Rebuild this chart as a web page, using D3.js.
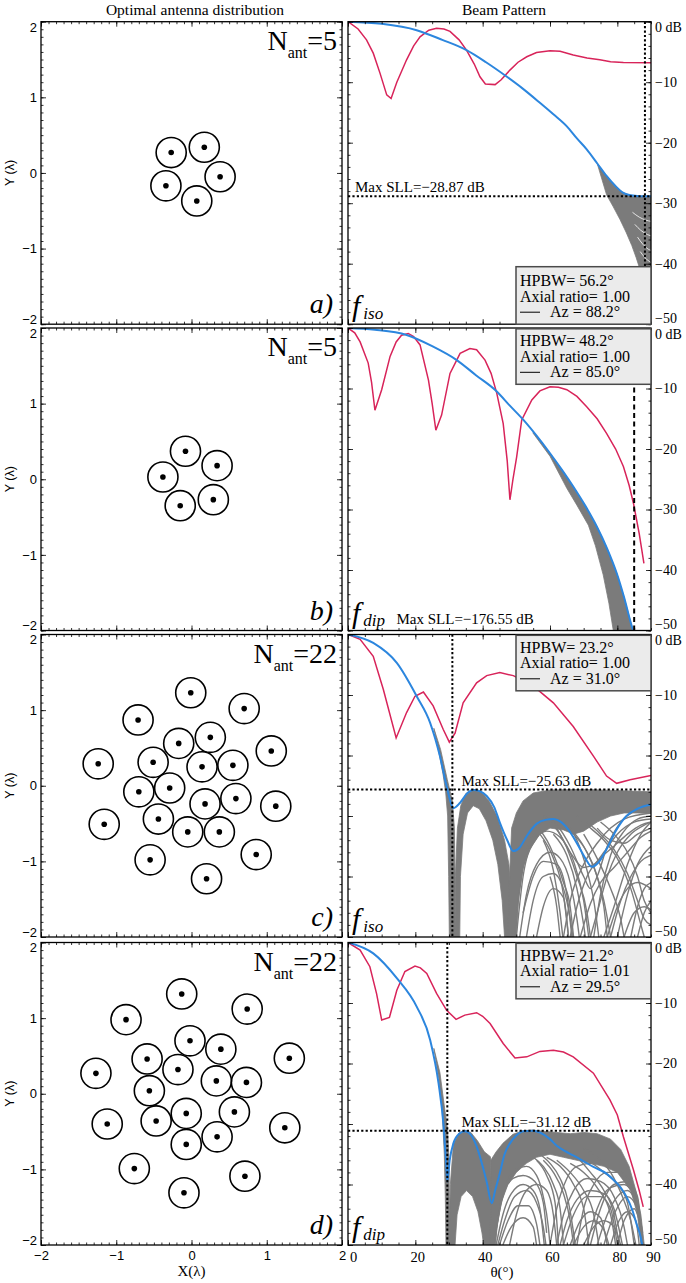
<!DOCTYPE html>
<html><head><meta charset="utf-8">
<script src="https://cdn.jsdelivr.net/npm/d3@7"></script>
<style>
body{margin:0;background:#fff;}
svg{display:block;}
</style></head><body>
<svg id="chart" width="686" height="1283"></svg>
<script>
// ---------------- DATA ----------------
const panelLetters = ["a)", "b)", "c)", "d)"];
const nAnt = ["5", "5", "22", "22"];
const patternKind = ["iso", "dip", "iso", "dip"];
const hpbw = ["56.2", "48.2", "23.2", "21.2"];
const axialRatio = ["1.00", "1.00", "1.00", "1.01"];
const azimuth = [88.2, 85.0, 31.0, 29.5];
const maxSLL = [-28.87, -176.55, -25.63, -31.12];
const xyTicks = [-2, -1, 0, 1, 2];
const thetaTicks = [0, 20, 40, 60, 80, 90];
const dbTicks = [0, -10, -20, -30, -40, -50];

const antA = [[-0.27,0.27],[0.17,0.34],[0.38,-0.05],[0.07,-0.37],[-0.34,-0.17]];
const antB = [[-0.08,0.37],[0.34,0.18],[0.29,-0.27],[-0.15,-0.35],[-0.38,0.03]];
const antC = [[-0.01,1.23],[0.70,1.02],[-0.71,0.87],[-0.17,0.56],[0.25,0.64],[1.06,0.46],
  [-1.24,0.29],[-0.51,0.31],[0.14,0.25],[0.55,0.27],[-0.70,-0.08],[-0.29,-0.03],[0.18,-0.24],
  [0.59,-0.17],[1.12,-0.27],[-1.16,-0.51],[-0.44,-0.44],[-0.05,-0.61],[0.37,-0.61],[-0.55,-0.98],
  [0.86,-0.91],[0.20,-1.23]];
const antD = [[-0.13,1.32],[0.74,1.12],[-0.87,0.98],[-0.02,0.70],[0.39,0.59],[-0.59,0.46],
  [1.30,0.47],[-0.18,0.32],[-1.27,0.27],[0.33,0.17],[0.73,0.15],[-0.56,0.04],[-0.07,-0.26],
  [0.57,-0.24],[-1.12,-0.40],[-0.47,-0.36],[1.24,-0.45],[0.34,-0.57],[-0.07,-0.67],[-0.76,-0.99],
  [0.71,-1.09],[-0.10,-1.31]];

// Beam patterns [theta (deg), dB]
const blueA = [[0,0],[10,-0.35],[20.4,-1.4],[28,-3],[35.2,-4.7],[41,-6.7],[47.1,-9.06],[52,-11.1],[57,-13.4],[61,-15.3],[65,-17.3],[68,-19.3],[70.9,-21.1],[74,-23.4],[76.8,-25.5],[79.5,-27.2],[81.8,-28.3],[84,-28.7],[86.7,-28.85],[90,-28.87]];
const redA = [[0,0],[3,-1.2],[5.5,-3],[7.5,-5.2],[9.5,-8.5],[11.5,-12.1],[12.8,-12.7],[14.5,-10],[17.4,-6.3],[19.5,-4],[21.4,-2.5],[24,-1.4],[26.3,-1.1],[28.5,-1.2],[30.3,-1.6],[33,-3],[35.2,-4.7],[37.5,-7],[39.2,-9.1],[40.8,-10.3],[43.7,-10.4],[45.5,-9.6],[48.1,-8.0],[50.5,-6.7],[53.1,-5.8],[56,-5.1],[60,-4.8],[63,-4.9],[66.9,-5.5],[71,-6],[74.8,-6.3],[78,-6.6],[81.8,-6.75],[90,-6.8]];
const grayA = [
  {upper: [[74,-23.4],[76.8,-25.5],[79.5,-27.2],[81.8,-28.3],[84,-28.7],[86.7,-28.85],[90,-28.87]],
   lower: [[74,-23.4],[76.8,-28.6],[78.8,-30.6],[80.8,-32.7],[82.6,-34.8],[84.3,-37],[85.6,-39],[86.7,-40.9],[88,-44],[89,-47],[90,-50]]}
];
const strandsA = [];
const gapsA = [
  [[84.5,-31.5],[86.5,-32.3],[88.5,-32.8],[90,-33]],
  [[85.2,-33.5],[87,-34.5],[89,-35.2],[90,-35.4]],
  [[86,-35.6],[87.6,-36.8],[89.2,-37.6],[90,-37.8]],
  [[86.8,-38],[88.2,-39],[90,-39.8]]
];

const blueB = [[0,0],[8,-0.3],[17.4,-1.16],[25,-3],[32.3,-5.3],[38,-7.8],[44.2,-10.5],[48,-12.8],[52.1,-15.2],[56,-17.8],[60,-20.7],[63.5,-23.4],[66.9,-26.2],[70.5,-29.4],[73.9,-32.8],[77,-36.5],[79.8,-40.5],[82,-44.5],[84.3,-49.3],[84.7,-50]];
const redB = [[0,0],[2,-0.8],[3.6,-2.3],[6,-5.8],[7,-9],[8,-13.6],[10,-10.2],[12.5,-4.7],[14.3,-2.3],[15.9,-1.2],[17.9,-0.9],[19.5,-1.4],[21.4,-2.8],[23.9,-8.6],[25,-12.5],[26.1,-16.9],[27.8,-14.4],[30.3,-7.5],[33.3,-4.2],[36.2,-3.4],[38.2,-3.6],[40.7,-5.3],[42.5,-7.5],[44.2,-10.8],[46.1,-15.8],[47.3,-22],[48.1,-28.4],[49,-25],[50.1,-21.3],[51.6,-15.2],[54.6,-11.9],[57,-10.4],[60,-9.7],[62.5,-9.8],[65,-10.2],[68,-11.3],[70.9,-13],[74,-15],[76.8,-17.4],[79.5,-20],[81.8,-22.9],[83.5,-26],[84.8,-29],[86.5,-34],[87.9,-38.9]];
const grayB = [
  {upper: [[55,-17.2],[60,-20.7],[63.5,-23.4],[66.9,-26.2],[70.5,-29.4],[73.9,-32.8],[77,-36.5],[79.8,-40.5],[82,-44.5],[84.3,-49.3],[84.7,-50]],
   lower: [[55,-17.4],[60,-21.2],[65,-26.5],[68,-29.3],[71.4,-32.6],[73.5,-36],[75.8,-40.8],[77.5,-45.5],[78.8,-50]]}
];
const strandsB = [];

const blueC = [[0,0],[7.5,-1.4],[14.5,-4.7],[20.4,-10.2],[24.4,-14.6],[27.3,-20.1],[29.3,-25.1],[31.3,-28.7],[33.3,-27.8],[35.5,-26.2],[37.2,-25.7],[39.2,-25.9],[41.2,-26.7],[43.5,-28.6],[45.1,-31.1],[47.3,-34],[49.1,-35.8],[51,-35.2],[53.1,-33.3],[56,-31.3],[59,-30.6],[61,-30.5],[63,-30.9],[65.5,-32.3],[67.9,-34.4],[70.5,-37],[72.4,-38.4],[74.5,-37.6],[76.8,-35.5],[79.5,-32.5],[82.7,-30],[86,-28.8],[90,-28.1]];
const redC = [[0,0],[3.6,-0.8],[7.5,-3.6],[10.5,-9.1],[14.3,-17.1],[17.4,-12.9],[19.9,-10.2],[22.4,-9.5],[25.3,-11.8],[28.3,-15.7],[30.1,-17.8],[31.8,-16.3],[34.2,-11.3],[38.2,-8.0],[41.2,-6.8],[45.1,-6.3],[49.1,-6.8],[55,-8.5],[61,-11.3],[66.9,-15.2],[72.9,-20.1],[76.8,-23.4],[79.8,-24.6],[83.8,-24.0],[90,-23.3]];
const grayC = [
  {upper: [[25.5,-15.5],[27,-19.5],[28.2,-23],[29,-26],[29.6,-30],[29.9,-40],[30.1,-50]],
   lower: [[25.5,-15.5],[27.5,-19],[29.5,-24],[31,-27.5],[31.6,-32],[31.8,-40],[31.9,-50]]},
  {upper: [[31.8,-50],[31.9,-40],[32.5,-32],[33.5,-28.3],[35,-26.3],[37.2,-25.6],[39.5,-25.9],[42,-27.6],[44.5,-30.3],[46.5,-34],[47.8,-38],[48.6,-45],[49,-50]],
   lower: [[33.2,-50],[33.4,-40],[34.2,-33],[35.5,-29.5],[37.2,-28.3],[39,-28.8],[41,-30.8],[43,-34],[44.5,-38],[45.8,-44],[46.5,-50]]},
  {upper: [[47.5,-50],[48,-40],[48.6,-32],[50,-29.5],[52,-27.5],[55,-26.2],[60,-25.7],[70,-25.6],[80,-25.8],[90,-26]],
   lower: [[50,-50],[50.6,-44],[52,-38.5],[54,-35.5],[57,-33],[60,-32],[64,-32.3],[67,-33],[70,-32.5],[74,-31],[78,-30],[82,-29.5],[86,-29.5],[90,-29.6]]}
];
const strandsC = [
  [[49.5,-50],[51,-42],[53,-36],[56,-32],[60,-30.5],[64,-31],[68,-34],[71,-39],[73,-44],[74.5,-50]],
  [[50,-50],[52,-40],[55,-34.5],[59,-32.5],[63,-33.5],[67,-37.5],[70,-44],[71.5,-50]],
  [[58,-30],[62,-31.5],[66,-35],[70,-40],[72,-42],[74,-40],[77,-35],[81,-31],[86,-29],[90,-28.5]],
  [[60,-31],[64,-34],[68,-40],[71,-46],[72,-50]],
  [[73,-50],[75,-43],[78,-36.5],[82,-32.5],[86,-30.5],[90,-30]],
  [[55,-31],[60,-35],[64,-41],[66,-45],[67,-50]],
  [[64,-50],[66,-44],[70,-38],[74,-34.5],[78,-32],[82,-30.5],[90,-29.5]],
  [[62,-32],[66,-36],[70,-38.5],[73,-38],[76,-36],[80,-33],[85,-31],[90,-30.5]],
  [[70,-33],[74,-37],[78,-42],[81,-47],[82,-50]],
  [[76,-50],[79,-45],[83,-38],[87,-33],[90,-31]],
  [[68,-30],[72,-32],[76,-34],[80,-37],[84,-42],[87,-48],[88,-50]],
  [[80,-50],[83,-43],[86,-38],[90,-35]],
  [[84,-50],[86,-45],[88,-42],[90,-41]],
  [[57,-33],[61,-37],[64,-43],[65.5,-50]],
  [[66,-32],[70,-35],[74,-40],[76,-44],[78,-50]],
  [[51,-50],[53,-43],[56,-38],[60,-36],[63,-37],[66,-41],[68,-47],[68.7,-50]],
  [[52,-46],[55,-40],[58,-37.5],[62,-38],[65,-43],[66.5,-50]],
  [[69,-50],[72,-44.5],[75,-41],[79,-38.5],[83,-36],[87,-33.5],[90,-32.5]],
  [[71,-31],[75,-33],[79,-35.5],[83,-39.5],[86,-44],[88,-47],[90,-48]],
  [[78,-50],[81,-44],[84,-40],[87,-37.5],[90,-36.5]],
  [[74,-32],[78,-34],[82,-34.5],[86,-33],[90,-32]],
  [[82,-50],[85,-46],[88,-45],[90,-45.5]],
  [[60,-40],[62,-45],[63,-50]],
  [[58,-34],[61,-39],[63,-46],[63.8,-50]],
  [[53,-50],[55,-44],[58,-40],[61,-39.5],[64,-42],[66,-47],[66.8,-50]],
  [[56,-50],[58,-45],[61,-42],[64,-43.5],[65.5,-50]],
  [[61,-33],[65,-36.5],[68,-42],[70,-48],[70.5,-50]],
  [[66,-50],[68,-45],[71,-40],[75,-37],[79,-35],[83,-33],[87,-31.5],[90,-31]],
  [[72,-50],[74,-46],[77,-40],[80,-36],[84,-33],[88,-31.5],[90,-31]],
  [[75,-31],[79,-33],[83,-36],[86,-40],[88,-44],[90,-46]],
  [[77,-50],[80,-45],[83,-42],[86,-41],[90,-42]],
  [[86,-50],[88,-46],[90,-44]],
  [[63,-31],[67,-33],[71,-36],[74,-40],[76,-45],[77,-50]]
];

const blueD = [[0,0],[7.5,-1.8],[14.5,-5.9],[20.4,-10.6],[24.4,-16.1],[26.9,-23.3],[28.4,-30.4],[29.1,-36],[29.5,-39.5],[30.2,-36],[31.3,-33.2],[33,-31.6],[34.7,-31.2],[36.5,-31.8],[38.2,-33.7],[40,-37],[41.2,-39.6],[42.7,-43.1],[43.7,-41],[45.1,-38.1],[46.5,-35],[48.1,-33.2],[50,-31.9],[52.1,-31.2],[55,-31.1],[57,-31.4],[60,-32.5],[62,-33.6],[64.5,-34.5],[66.9,-35.2],[69.5,-36],[72.9,-37.1],[76.8,-38.2],[79,-39.3],[81,-40.5],[82.7,-42],[84.5,-44.3],[85.7,-46.5],[86.7,-48.2],[87.4,-50]];
const redD = [[0,0],[3.6,-1.24],[6.5,-4.0],[8.5,-8.5],[10,-12.8],[12.3,-12.4],[14.5,-7.9],[16.9,-4.8],[19.9,-3.9],[21.5,-4.2],[23.4,-5.1],[26.3,-8.4],[29.3,-11.2],[32.1,-12.7],[34.7,-12.0],[38.2,-11.6],[40,-12.2],[42.2,-13.4],[46.1,-16.7],[49.6,-19.1],[53.1,-18.9],[57,-18.0],[61,-17.8],[64,-18.1],[66.9,-18.9],[72.9,-21.6],[77.8,-26.0],[80,-28.5],[81.8,-32.1],[84.8,-37.6],[86.5,-41],[87.7,-43.7]];
const grayD = [
  {upper: [[25.5,-17.5],[27,-22.5],[28,-28],[28.6,-35],[28.9,-42],[29.1,-50]],
   lower: [[25.5,-17.5],[27.3,-21.5],[28.6,-27],[29.6,-31],[30,-36],[30.1,-42],[30.2,-50]]},
  {upper: [[30,-50],[30.4,-40],[31.3,-33.4],[33,-31.5],[34.7,-31],[36.5,-31.4],[38.5,-32.8],[40.5,-34.6],[42.3,-35.4],[42.6,-42],[42.8,-50]],
   lower: [[31.8,-50],[32.4,-45],[33.6,-42],[35.2,-41],[37,-42],[38.6,-44.5],[39.8,-48],[40.3,-50]]},
  {upper: [[42.3,-50],[42.4,-36],[44,-34.6],[46,-33.2],[49,-31.7],[52,-31.1],[55,-31],[58,-31.2],[62,-31.4],[66,-31.6],[70,-31.4],[74,-31.6],[78,-32.5],[81,-34.2],[83.5,-37],[85.5,-41],[87,-45],[88,-50]],
   lower: [[43.8,-50],[44.3,-47],[45.5,-43],[47.5,-40],[50,-38],[53,-36.5],[56,-35.5],[60,-35],[64,-35.5],[68,-36],[72,-36.5],[76,-37],[80,-38],[84,-41],[86,-45],[87,-50]]}
];
const strandsD = [
  [[43.5,-50],[45,-44],[47,-40],[50,-37.5],[53,-37],[56,-38.5],[58,-42],[59.5,-47],[60,-50]],
  [[44,-50],[46,-45],[48.5,-41.5],[52,-40],[55,-41],[57,-44],[58.3,-50]],
  [[45,-50],[47.5,-46],[50.5,-43.5],[53.5,-43.5],[56,-46.5],[57,-50]],
  [[43.8,-48],[46,-42],[49,-39],[52,-38.5],[55.5,-39.5],[58,-43],[59,-48]],
  [[55,-35.5],[58,-37],[61,-40],[63,-44],[64,-50]],
  [[58,-36],[61,-38],[64,-41.5],[66,-46],[67,-50]],
  [[60,-50],[62,-44],[65,-39],[68,-37],[72,-36.5],[76,-38],[80,-40],[83,-43],[85,-50]],
  [[62,-50],[64,-45],[67,-41],[71,-39],[75,-39.5],[79,-42],[82,-47],[83,-50]],
  [[64,-50],[67,-45],[71,-42],[75,-42],[78,-44],[80,-50]],
  [[66,-50],[69,-46],[72,-44.5],[75,-45.5],[77,-50]],
  [[70,-50],[73,-47],[76,-46],[79,-47],[81,-50]],
  [[62,-36],[66,-38],[70,-41],[73,-45],[74.5,-50]],
  [[66,-36.5],[70,-38],[74,-40.5],[78,-45],[79.5,-50]],
  [[72,-50],[75,-44],[79,-40],[83,-39.5],[86,-42],[87.5,-50]],
  [[76,-50],[79,-45],[83,-42],[86,-44],[87.5,-48]],
  [[68,-50],[70,-44],[73,-40],[77,-38],[81,-38],[84,-40],[86.5,-45],[87.5,-50]],
  [[56,-36],[59,-38.5],[61.5,-43],[62.5,-50]],
  [[80,-50],[82,-46],[85,-44],[87,-47]],
  [[48,-50],[50,-45],[53,-41],[56,-40],[59,-41],[61,-45],[62,-50]],
  [[44.5,-50],[46.5,-46],[49.5,-42],[53,-41],[56,-43],[58,-47],[58.8,-50]],
  [[46,-50],[48.5,-47],[52,-45.5],[55,-47],[56,-50]],
  [[57,-35],[60,-36.5],[63,-39],[65.5,-43],[67,-48],[67.5,-50]],
  [[59,-35.5],[63,-37],[67,-40],[70,-44],[71.5,-50]],
  [[64,-34],[68,-35.5],[72,-38],[76,-41],[79,-45],[80.5,-50]],
  [[70,-34],[74,-35.5],[78,-38],[81.5,-42],[84,-46],[85.5,-50]],
  [[74,-50],[77,-45],[80,-42],[83,-41],[85.5,-43],[87,-47]],
  [[63,-50],[65,-46],[68,-42.5],[72,-41],[76,-41.5],[79,-44],[81.5,-50]],
  [[67,-50],[70,-47],[73,-46],[76,-47.5],[77.5,-50]],
  [[78,-50],[80.5,-46],[83,-44.5],[85.5,-46],[86.5,-50]],
  [[71,-50],[74,-44],[78,-40.5],[82,-40],[85,-42],[87,-46]]
];

// --------------- LAYOUT ---------------
const svg = d3.select("#chart");
const rowTop = [21.7, 328, 634.5, 942.5];
const rowH = 302.5;
const LX0 = 41, LX1 = 342, RX0 = 348, RX1 = 651;
const SERIF = "'Liberation Serif','Times New Roman',serif";
const SANS = "'Liberation Sans',Arial,sans-serif";
const RED = "#d8245a", BLUE = "#2c86de", GRAY = "#7b7b7b";

const antennas = [antA, antB, antC, antD];
const blues = [blueA, blueB, blueC, blueD];
const reds = [redA, redB, redC, redD];
const grays = [grayA, grayB, grayC, grayD];
const strands = [strandsA, strandsB, strandsC, strandsD];
const gaps = [gapsA, [], [], []];

svg.append("text").attr("x", 195).attr("y", 15).attr("text-anchor", "middle")
  .style("font-family", SERIF).style("font-size", "15.5px").text("Optimal antenna distribution");
svg.append("text").attr("x", 504).attr("y", 15).attr("text-anchor", "middle")
  .style("font-family", SERIF).style("font-size", "15.5px").text("Beam Pattern");

function minor(a, b, step) { return d3.range(Math.round((b - a) / step) + 1).map(i => +(a + i * step).toFixed(4)); }

for (let r = 0; r < 4; r++) {
  const top = rowTop[r], bot = top + rowH;
  // ---- left panel ----
  const xs = d3.scaleLinear().domain([-2, 2]).range([LX0, LX1]);
  const ys = d3.scaleLinear().domain([-2, 2]).range([bot, top]);
  const g = svg.append("g");
  const mk = (axisFn, scale, vals, size, tr, labels) => {
    const ax = axisFn(scale).tickValues(vals).tickSizeInner(-size).tickSizeOuter(0);
    if (!labels) ax.tickFormat("");
    const a = g.append("g").attr("transform", tr).call(ax);
    a.select(".domain").remove();
    a.selectAll("line").attr("stroke", "#000").attr("stroke-width", 0.8);
    return a;
  };
  const mn = minor(-2, 2, 0.1);
  mk(d3.axisLeft, ys, mn, 2.5, `translate(${LX0},0)`, false);
  mk(d3.axisRight, ys, mn, 2.5, `translate(${LX1},0)`, false);
  mk(d3.axisTop, xs, mn, 2.5, `translate(0,${top})`, false);
  mk(d3.axisBottom, xs, mn, 2.5, `translate(0,${bot})`, false);
  mk(d3.axisRight, ys, xyTicks, 5, `translate(${LX1},0)`, false);
  mk(d3.axisTop, xs, xyTicks, 5, `translate(0,${top})`, false);
  const yl = mk(d3.axisLeft, ys, xyTicks, 5, `translate(${LX0},0)`, true);
  yl.selectAll("text").style("font-family", SANS).style("font-size", "13px").attr("x", -4)
    .text(d => d < 0 ? "\u2212" + (-d) : d)
    .attr("dy", d => d === 2 ? "0.72em" : d === -2 ? "-0.05em" : "0.32em");
  const xb = mk(d3.axisBottom, xs, xyTicks, 5, `translate(0,${bot})`, r === 3);
  if (r === 3) {
    xb.selectAll("text").style("font-family", SANS).style("font-size", "13px").attr("y", 6)
      .text(d => d < 0 ? "\u2212" + (-d) : d);
  }
  g.append("rect").attr("x", LX0).attr("y", top).attr("width", LX1 - LX0).attr("height", rowH)
    .attr("fill", "none").attr("stroke", "#000").attr("stroke-width", 1.3);
  g.append("text").attr("transform", `translate(14,${(top + bot) / 2}) rotate(-90)`)
    .attr("text-anchor", "middle").style("font-family", SANS).style("font-size", "12.5px").text("Y (\u03bb)");
  const rpx = xs(0.2) - xs(0);
  g.selectAll("circle.ring").data(antennas[r]).join("circle").attr("class", "ring")
    .attr("cx", d => xs(d[0])).attr("cy", d => ys(d[1])).attr("r", rpx)
    .attr("fill", "none").attr("stroke", "#000").attr("stroke-width", 1.6);
  g.selectAll("circle.dot").data(antennas[r]).join("circle").attr("class", "dot")
    .attr("cx", d => xs(d[0])).attr("cy", d => ys(d[1])).attr("r", 2.8).attr("fill", "#000");
  // N_ant label
  const nt = g.append("text").attr("x", LX1 - 5).attr("y", top + 28)
    .attr("text-anchor", "end").style("font-family", SERIF).style("font-size", "28px");
  nt.append("tspan").text("N");
  nt.append("tspan").style("font-size", "16px").attr("dy", 8).text("ant");
  nt.append("tspan").attr("dy", -8).text("=" + nAnt[r]);
  g.append("text").attr("x", LX1 - 9).attr("y", bot - 11).attr("text-anchor", "end")
    .style("font-family", SERIF).style("font-style", "italic").style("font-size", "28px").text(panelLetters[r]);

  // ---- right panel ----
  const tx = d3.scaleLinear().domain([0, 90]).range([RX0, RX1]);
  const dy = d3.scaleLinear().domain([0, -50]).range([top, bot]);
  const h = svg.append("g");
  const clipId = "clip" + r;
  h.append("clipPath").attr("id", clipId).append("rect").attr("x", RX0).attr("y", top)
    .attr("width", RX1 - RX0).attr("height", rowH);
  const plot = h.append("g").attr("clip-path", `url(#${clipId})`);
  const line = d3.line().x(d => tx(d[0])).y(d => dy(d[1]));
  const smooth = d3.line().x(d => tx(d[0])).y(d => dy(d[1])).curve(d3.curveMonotoneX);
  grays[r].forEach(b => {
    const pts = b.upper.concat(b.lower.slice().reverse());
    plot.append("path").attr("d", line(pts) + "Z").attr("fill", GRAY).attr("stroke", GRAY).attr("stroke-width", 0.8);
  });
  strands[r].forEach(s => {
    plot.append("path").attr("d", smooth(s)).attr("fill", "none").attr("stroke", GRAY).attr("stroke-width", 1.4);
  });
  gaps[r].forEach(s => {
    plot.append("path").attr("d", smooth(s)).attr("fill", "none").attr("stroke", "#fff").attr("stroke-width", 0.8);
  });
  plot.append("path").attr("d", line(reds[r])).attr("fill", "none").attr("stroke", RED).attr("stroke-width", 1.5);
  plot.append("path").attr("d", smooth(blues[r])).attr("fill", "none").attr("stroke", BLUE).attr("stroke-width", 2);
  // dotted lines
  const dash = r === 1 ? "5,3.5" : "2.2,2.2";
  plot.append("line").attr("x1", tx(azimuth[r])).attr("x2", tx(azimuth[r])).attr("y1", top).attr("y2", bot)
    .attr("stroke", "#000").attr("stroke-width", 2).attr("stroke-dasharray", dash);
  if (maxSLL[r] > -50) {
    plot.append("line").attr("x1", RX0).attr("x2", RX1).attr("y1", dy(maxSLL[r])).attr("y2", dy(maxSLL[r]))
      .attr("stroke", "#000").attr("stroke-width", 2).attr("stroke-dasharray", dash);
  }
  const sllTxt = "Max SLL=\u2212" + Math.abs(maxSLL[r]).toFixed(2) + " dB";
  if (r === 0) {
    h.append("text").attr("x", 355).attr("y", dy(maxSLL[r]) - 4).style("font-family", SERIF).style("font-size", "15px").text(sllTxt);
  } else if (r === 1) {
    h.append("text").attr("x", 396.5).attr("y", bot - 7).style("font-family", SERIF).style("font-size", "15px").text(sllTxt);
  } else {
    h.append("text").attr("x", 461.5).attr("y", dy(maxSLL[r]) - 4).style("font-family", SERIF).style("font-size", "15px").text(sllTxt);
  }
  // axes
  const mk2 = (axisFn, scale, vals, size, tr, labels) => {
    const ax = axisFn(scale).tickValues(vals).tickSizeInner(-size).tickSizeOuter(0);
    if (!labels) ax.tickFormat("");
    const a = h.append("g").attr("transform", tr).call(ax);
    a.select(".domain").remove();
    a.selectAll("line").attr("stroke", "#000").attr("stroke-width", 0.8);
    return a;
  };
  const dbMinor = minor(-50, 0, 2), thMinor = minor(0, 90, 5);
  mk2(d3.axisLeft, dy, dbMinor, 2.5, `translate(${RX0},0)`, false);
  mk2(d3.axisRight, dy, dbMinor, 2.5, `translate(${RX1},0)`, false);
  mk2(d3.axisTop, tx, thMinor, 2.5, `translate(0,${top})`, false);
  mk2(d3.axisBottom, tx, thMinor, 2.5, `translate(0,${bot})`, false);
  mk2(d3.axisLeft, dy, dbTicks, 5, `translate(${RX0},0)`, false);
  mk2(d3.axisTop, tx, thetaTicks.slice(0, 5), 5, `translate(0,${top})`, false);
  const ra = mk2(d3.axisRight, dy, dbTicks, 5, `translate(${RX1},0)`, true);
  ra.selectAll("text").style("font-family", SERIF).style("font-size", "14px").attr("x", 4)
    .text(d => d === 0 ? "0 dB" : "\u2212" + (-d))
    .attr("dy", d => d === 0 ? "0.72em" : d === -50 ? "-0.12em" : "0.32em");
  const ba = mk2(d3.axisBottom, tx, thetaTicks.slice(0, 5), 5, `translate(0,${bot})`, r === 3);
  if (r === 3) {
    const bl = h.append("g").attr("transform", `translate(0,${bot})`)
      .call(d3.axisBottom(tx).tickValues(thetaTicks).tickSize(0).tickPadding(7));
    bl.select(".domain").remove();
    bl.selectAll("text").style("font-family", SERIF).style("font-size", "14.5px")
      .attr("x", d => d === 0 ? 5 : 2);
    ba.selectAll("text").remove();
  }
  h.append("rect").attr("x", RX0).attr("y", top).attr("width", RX1 - RX0).attr("height", rowH)
    .attr("fill", "none").attr("stroke", "#000").attr("stroke-width", 1.3);
  // legend box
  const bh = r === 0 ? 57.5 : 55.5;
  const by = r === 0 ? bot - bh : top + 0.8;
  h.append("rect").attr("x", 516).attr("y", by).attr("width", RX1 - 516).attr("height", bh)
    .attr("fill", "#ebebeb").attr("stroke", "#4a4a4a").attr("stroke-width", 1.5);
  const bb = by + bh;
  const lt = (y, t, x) => h.append("text").attr("x", x).attr("y", y).style("font-family", SERIF).style("font-size", "16px").text(t);
  lt(bb - 38, "HPBW= " + hpbw[r] + "\u00b0", 520);
  lt(bb - 22.5, "Axial ratio= " + axialRatio[r], 520);
  lt(bb - 7, "Az = " + azimuth[r].toFixed(1) + "\u00b0", 550);
  h.append("line").attr("x1", 520).attr("x2", 540).attr("y1", bb - 12).attr("y2", bb - 12).attr("stroke", "#000").attr("stroke-width", 1);
  // f label
  const ft = h.append("text").attr("x", 352).attr("y", bot - 8).style("font-family", SERIF).style("font-style", "italic");
  ft.append("tspan").style("font-size", "30px").text("f");
  ft.append("tspan").style("font-size", "17px").attr("dx", 3).attr("dy", 3).text(patternKind[r]);
}

svg.append("text").attr("x", 191.5).attr("y", 1276).attr("text-anchor", "middle")
  .style("font-family", SERIF).style("font-size", "15px").text("X(\u03bb)");
svg.append("text").attr("x", 502).attr("y", 1277).attr("text-anchor", "middle")
  .style("font-family", SERIF).style("font-size", "15px").text("\u03b8(\u00b0)");
</script>
</body></html>
